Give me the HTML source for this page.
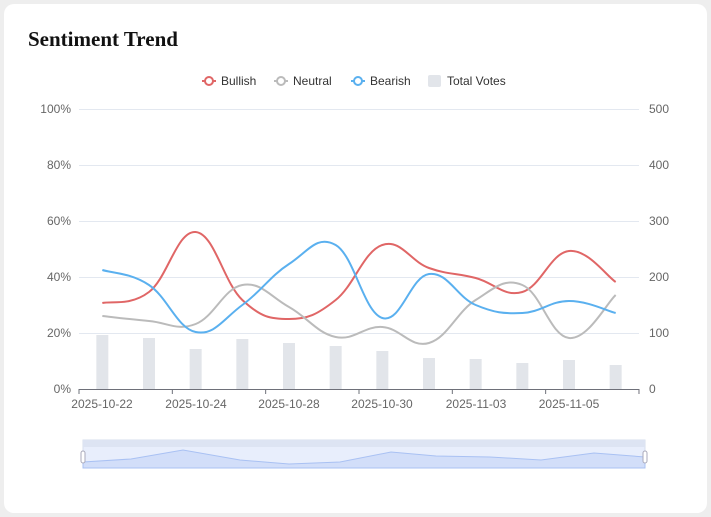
<!DOCTYPE html>
<html><head><meta charset="utf-8"><style>
body{margin:0;background:#eee;width:711px;height:517px;overflow:hidden;font-family:"Liberation Sans",sans-serif}
.card{position:absolute;left:4px;top:4px;width:703px;height:509px;background:#fff;border-radius:10px}
h1{position:absolute;left:28px;top:27px;margin:0;font:bold 21px "Liberation Serif",serif;color:#111}
</style></head><body>
<div class="card"></div>
<h1>Sentiment Trend</h1>
<svg id="s" width="711" height="517" style="position:absolute;left:0;top:0" font-family="Liberation Sans, sans-serif" font-size="12" fill="#666">
<g stroke="#e3e8f0">
<line x1="79" x2="639" y1="109.5" y2="109.5"/><line x1="79" x2="639" y1="165.5" y2="165.5"/><line x1="79" x2="639" y1="221.5" y2="221.5"/><line x1="79" x2="639" y1="277.5" y2="277.5"/><line x1="79" x2="639" y1="333.5" y2="333.5"/>
</g>
<g text-anchor="end"><text x="71" y="113">100%</text><text x="71" y="169">80%</text><text x="71" y="225">60%</text><text x="71" y="281">40%</text><text x="71" y="337">20%</text><text x="71" y="393">0%</text></g>
<g text-anchor="start"><text x="649" y="113">500</text><text x="649" y="169">400</text><text x="649" y="225">300</text><text x="649" y="281">200</text><text x="649" y="337">100</text><text x="649" y="393">0</text></g>
<g id="bars" fill="#e2e5ea"></g>
<line x1="79" x2="639" y1="389.5" y2="389.5" stroke="#6e7079"/>
<g id="ticks" stroke="#6e7079"></g>
<g text-anchor="middle"><text x="102" y="408">2025-10-22</text><text x="196" y="408">2025-10-24</text><text x="289" y="408">2025-10-28</text><text x="382" y="408">2025-10-30</text><text x="476" y="408">2025-11-03</text><text x="569" y="408">2025-11-05</text></g>
<g id="lines" fill="none" stroke-width="2"></g>
<g font-size="12" fill="#333">
<line x1="202" x2="216" y1="81" y2="81" stroke="#e06666" stroke-width="2"/><circle cx="209" cy="81" r="4" fill="#fff" stroke="#e06666" stroke-width="2"/><text x="221" y="85">Bullish</text>
<line x1="274" x2="288" y1="81" y2="81" stroke="#bbb" stroke-width="2"/><circle cx="281" cy="81" r="4" fill="#fff" stroke="#bbb" stroke-width="2"/><text x="293" y="85">Neutral</text>
<line x1="351" x2="365" y1="81" y2="81" stroke="#5ab0ef" stroke-width="2"/><circle cx="358" cy="81" r="4" fill="#fff" stroke="#5ab0ef" stroke-width="2"/><text x="370" y="85">Bearish</text>
<rect x="428" y="75" width="13" height="12" rx="2" fill="#e2e5ea"/><text x="447" y="85">Total Votes</text>
</g>
<rect x="83" y="440" width="562" height="28" fill="#e8eefc" stroke="#d7dfee"/>
<rect x="83" y="440" width="562" height="7" fill="#dde4f3"/>
<path d="M83,462 L131,459 L183,450 L240,460 L289,464 L340,462 L391,452 L436,456 L490,457 L541,460 L594,453 L645,457 L645,468 L83,468Z" fill="#d2def9" stroke="#a9c1f3"/>
<rect x="81" y="451" width="4" height="12" rx="2" fill="#fff" stroke="#aab"/>
<rect x="643" y="451" width="4" height="12" rx="2" fill="#fff" stroke="#aab"/>
</svg>
<script>
var xs=[],i;for(i=0;i<12;i++)xs.push(79+23.33+46.667*i);
var bt=[335,338,349,339,343,346,351,358,359,363,360,365],b='';
xs.forEach(function(x,i){b+='<rect x="'+(x-6)+'" y="'+bt[i]+'" width="12" height="'+(389-bt[i])+'"/>'});
document.getElementById('bars').innerHTML=b;
var t='';for(i=0;i<7;i++){var x=79+93.33*i;t+='<line x1="'+x+'" x2="'+x+'" y1="389" y2="394"/>'}
document.getElementById('ticks').innerHTML=t;
function path(ys){var p=xs.map(function(x,i){return[x,ys[i]]});var d='M'+p[0];var k=0.2;
for(var i=0;i<p.length-1;i++){var p0=p[i-1]||p[i],p1=p[i],p2=p[i+1],p3=p[i+2]||p2;
d+=' C'+(p1[0]+(p2[0]-p0[0])*k)+','+(p1[1]+(p2[1]-p0[1])*k)+' '+(p2[0]-(p3[0]-p1[0])*k)+','+(p2[1]-(p3[1]-p1[1])*k)+' '+p2;}return d}
var S=[["#e06666",[303,292,232,300,319,300,245,268,278,292,251,282]],["#bbb",[316,321,324,285,307,337,327,343,300,285,338,295]],["#5ab0ef",[270,285,332,305,264,245,318,274,305,313,301,313]]],L='';
S.forEach(function(s){L+='<path stroke="'+s[0]+'" d="'+path(s[1])+'"/>'});
document.getElementById('lines').innerHTML=L;
</script>
</body></html>
